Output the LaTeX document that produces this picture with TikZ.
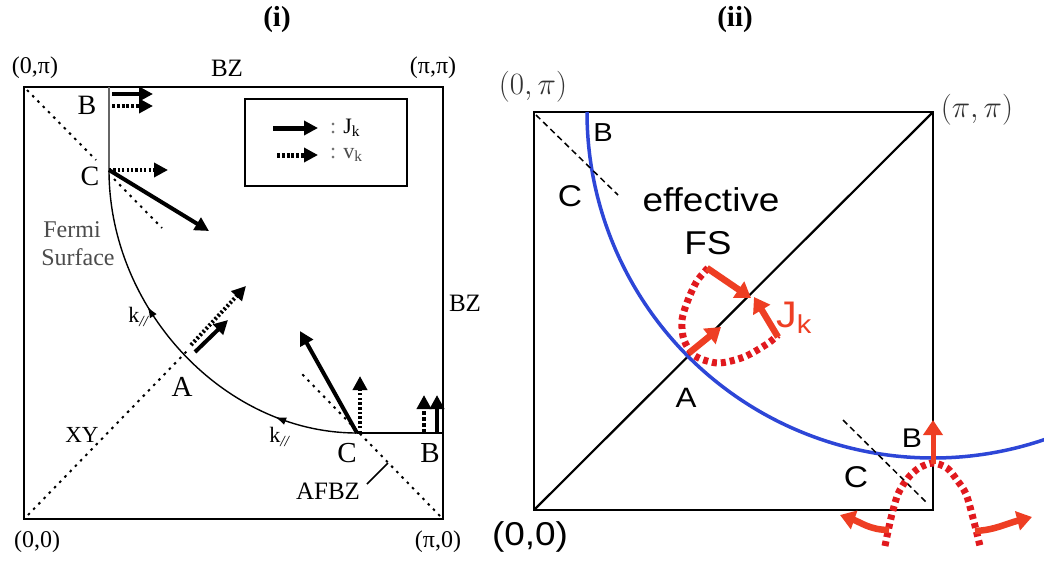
\documentclass[tikz,border=0pt]{standalone}
\usepackage{fix-cm}
\usepackage{fontspec}
\setmainfont{Liberation Serif}
\newfontfamily\sansf[FakeStretch=1.12]{Liberation Sans}
\usetikzlibrary{arrows.meta,decorations.markings}
\newcommand\myfs[1]{\fontsize{#1}{#1}\selectfont}
\definecolor{fsblue}{RGB}{45,70,215}
\definecolor{jred}{RGB}{238,62,35}
\definecolor{dred}{RGB}{225,25,30}
\begin{document}
\begin{tikzpicture}[x=1pt,y=-1pt,
  lab/.style={inner sep=0pt},
  boxline/.style={line width=1.6pt},
  jarrow/.style={line width=4pt,-{Triangle[length=14pt,width=14pt]}},
  varrow/.style={line width=4pt,dash pattern=on 3pt off 1.8pt,-{Triangle[length=14pt,width=14pt]}},
  dotline/.style={line width=2pt,dash pattern=on 2.5pt off 5pt},
  dline/.style={line width=1.5pt,dash pattern=on 6pt off 4pt},
  rarrow/.style={jred,line width=6.5pt,-{Triangle[length=15pt,width=19pt]}},
  rdot/.style={dred,line width=7pt,dash pattern=on 5pt off 4pt}
]
\useasboundingbox (0,0) rectangle (1044,560);
\fill[white] (0,0) rectangle (1044,560);

% ================= panel (i) =================
\node[lab,font=\bfseries\myfs{29}] (ti) at (277,20) {(i)};
\coordinate (q1) at (24,87);
\coordinate (p1) at (443,87);
\coordinate (o1) at (24,519);
\coordinate (r1) at (443,519);
\draw[boxline] (q1) rectangle (r1);

\node[lab,font=\myfs{24}] (l0pi) at (35,68) {(0,π)};
\node[lab,font=\myfs{25}] (lbz) at (227,68) {BZ};
\node[lab,font=\myfs{24}] (lpipi) at (433,68) {(π,π)};
\node[lab,font=\myfs{24}] (l00) at (37,542) {(0,0)};
\node[lab,font=\myfs{24}] (lpi0) at (438,542) {(π,0)};
\node[lab,font=\myfs{25}] (lbz2) at (465,303) {BZ};

% AFBZ diagonals and XY line
\coordinate (d1a) at (27,90);
\coordinate (d1b) at (96,160);
\coordinate (d1c) at (114,179);
\coordinate (d1d) at (162,228);
\draw[dotline] (d1a) -- (d1b);
\draw[dotline] (d1c) -- (d1d);
\coordinate (d2a) at (440,516);
\coordinate (d2b) at (302,374);
\draw[dotline] (d2a) -- (d2b);
\coordinate (A1) at (187,351);
\coordinate (x1) at (28,515);
\draw[dotline] (x1) -- (A1);

% Fermi surface
\coordinate (Btop) at (109,87);
\coordinate (C1) at (109,170);
\coordinate (C2) at (357,433);
\coordinate (Bbot) at (443,433);
\draw[black!60,line width=2pt] (Btop) -- (C1);
\draw[line width=1.4pt,postaction=decorate,
  decoration={markings,
    mark=at position 0.36 with {\arrowreversed{Latex[length=11pt,width=8pt]}},
    mark=at position 0.79 with {\arrowreversed{Latex[length=11pt,width=8pt]}}}]
  (C1) .. controls (109,310) and (225,433) .. (C2);
\draw[line width=1.6pt] (C2) -- (Bbot);

% labels
\node[lab,font=\myfs{28}] (lB1) at (87,105) {B};
\node[lab,font=\myfs{28}] (lC1) at (90,176) {C};
\node[lab,font=\myfs{24},text=black!70] (lfermi) at (72,230) {Fermi};
\node[lab,font=\myfs{24},text=black!70] (lsurf) at (78,257) {Surface};
\node[lab,font=\myfs{22}] (lk1) at (139,317) {k\textsubscript{\textit{//}}};
\node[lab,font=\myfs{29}] (lA1) at (182,387) {A};
\node[lab,font=\myfs{23}] (lxy) at (82,435) {XY};
\node[lab,font=\myfs{22}] (lk2) at (280,437) {k\textsubscript{\textit{//}}};
\node[lab,font=\myfs{29}] (lC2) at (347,453) {C};
\node[lab,font=\myfs{29}] (lB2) at (430,453) {B};
\node[lab,font=\myfs{25}] (lafbz) at (328,491) {AFBZ};
\coordinate (af1) at (367,484);
\coordinate (af2) at (388,463);
\draw[line width=1.5pt] (af1) -- (af2);

% arrows at B (top)
\coordinate (bj1) at (112,94);  \coordinate (bj2) at (153,94);
\coordinate (bv1) at (112,106); \coordinate (bv2) at (153,106);
\draw[jarrow] (bj1) -- (bj2);
\draw[varrow] (bv1) -- (bv2);
% arrows at C (top)
\coordinate (cv2) at (168,170);
\coordinate (cj2) at (209,231);
\draw[varrow,dash pattern=on 2.2pt off 2.2pt] (C1) -- (cv2);
\draw[jarrow] (C1) -- (cj2);
% arrows at A
\coordinate (av1) at (191,345); \coordinate (av2) at (246,286);
\coordinate (aj1) at (195,352); \coordinate (aj2) at (228,320);
\draw[varrow,dash pattern=on 2.2pt off 2.2pt] (av1) -- (av2);
\draw[jarrow] (aj1) -- (aj2);
% arrows at C (bottom)
\coordinate (c2j) at (300,331);
\coordinate (c2v1) at (360,433); \coordinate (c2v2) at (360,376);
\draw[jarrow] (C2) -- (c2j);
\draw[varrow,dash pattern=on 2.5pt off 2.2pt] (c2v1) -- (c2v2);
% arrows at B (bottom)
\coordinate (bbv1) at (424,433); \coordinate (bbv2) at (424,395);
\coordinate (bbj1) at (437,433); \coordinate (bbj2) at (437,395);
\draw[varrow,dash pattern=on 4pt off 2pt] (bbv1) -- (bbv2);
\draw[jarrow] (bbj1) -- (bbj2);

% legend
\node[draw,boxline,minimum width=162pt,minimum height=87pt,inner sep=0pt] (leg) at (326,142.5) {};
\coordinate (lj1) at (273,128); \coordinate (lj2) at (318,128);
\coordinate (lv1) at (277,155); \coordinate (lv2) at (318,155);
\draw[jarrow,line width=5pt] (lj1) -- (lj2);
\draw[varrow,line width=5pt] (lv1) -- (lv2);
\node[lab,anchor=west,font=\myfs{22}] (lJk) at (330,128) {\textcolor{black!55}{:}\hspace{7pt}J\textsubscript{k}};
\node[lab,anchor=west,font=\myfs{22}] (lvk) at (330,155) {\textcolor{black!55}{:}\hspace{7pt}\textcolor{black!70}{v\textsubscript{k}}};

% ================= panel (ii) =================
\node[lab,font=\bfseries\myfs{29}] (tii) at (735,20) {(ii)};
\coordinate (q2) at (534,112);
\coordinate (p2) at (933,112);
\coordinate (o2) at (534,510);
\coordinate (r2) at (933,510);
\draw[boxline] (q2) rectangle (r2);
\draw[line width=2.2pt] (o2) -- (p2);

\node[lab,font=\myfs{31},text=black!80] (m0pi) at (533,87) {$(0,\pi)$};
\node[lab,font=\myfs{31},text=black!80] (mpipi) at (977,110) {$(\pi,\pi)$};
\node[lab,font=\sansf\myfs{33}] (m00) at (530,537) {(0,0)};

\coordinate (bs) at (587,112);
\draw[fsblue,line width=3.5pt] (bs) arc[start angle=180,end angle=70,radius=346];

\coordinate (e1a) at (536,115); \coordinate (e1b) at (618,195);
\coordinate (e2a) at (843,420); \coordinate (e2b) at (927,503);
\draw[dline] (e1a) -- (e1b);
\draw[dline] (e2a) -- (e2b);

\node[lab,font=\sansf\myfs{26}] (mB1) at (603,133) {B};
\node[lab,font=\sansf\myfs{30}] (mC1) at (570,196) {C};
\node[lab,font=\sansf\myfs{33}] (meff) at (711,200) {effective};
\node[lab,font=\sansf\myfs{33}] (mfs) at (708,243) {FS};
\node[lab,font=\sansf\myfs{28}] (mA) at (686,398) {A};
\node[lab,font=\sansf\myfs{27}] (mB2) at (912,438) {B};
\node[lab,font=\sansf\myfs{30}] (mC2) at (856,477) {C};
\node[lab,font=\sansf\myfs{37},text=jred,anchor=west] (mJ) at (776,318) {J\textsubscript{k}};

% red current patterns
\draw[rdot] plot[smooth] coordinates {(708,268) (697,281) (688,300) (682,320) (684,340) (695,356) (718,363) (744,357) (767,344) (778,335)};
\coordinate (ra1) at (707,268); \coordinate (ra2) at (751,298);
\coordinate (rb1) at (778,337); \coordinate (rb2) at (754,297);
\coordinate (rc1) at (689,353); \coordinate (rc2) at (721,327);
\draw[rarrow] (ra1) -- (ra2);
\draw[rarrow] (rb1) -- (rb2);
\draw[rarrow] (rc1) -- (rc2);

\draw[rdot] plot[smooth] coordinates {(885,546) (891,518) (898,494) (908,478) (919,468) (933,463) (947,468) (957,480) (966,494) (973,518) (980,546)};
\coordinate (rv1) at (933,464); \coordinate (rv2) at (933,420);
\draw[rarrow,line width=5pt] (rv1) -- (rv2);
\coordinate (rl1) at (889,530); \coordinate (rl2) at (840,515);
\draw[rarrow] (rl1) .. controls (870,530) and (860,522) .. (rl2);
\coordinate (rr1) at (975,531); \coordinate (rr2) at (1032,517);
\draw[rarrow] (rr1) .. controls (995,530) and (1005,524) .. (rr2);
\end{tikzpicture}
\end{document}
